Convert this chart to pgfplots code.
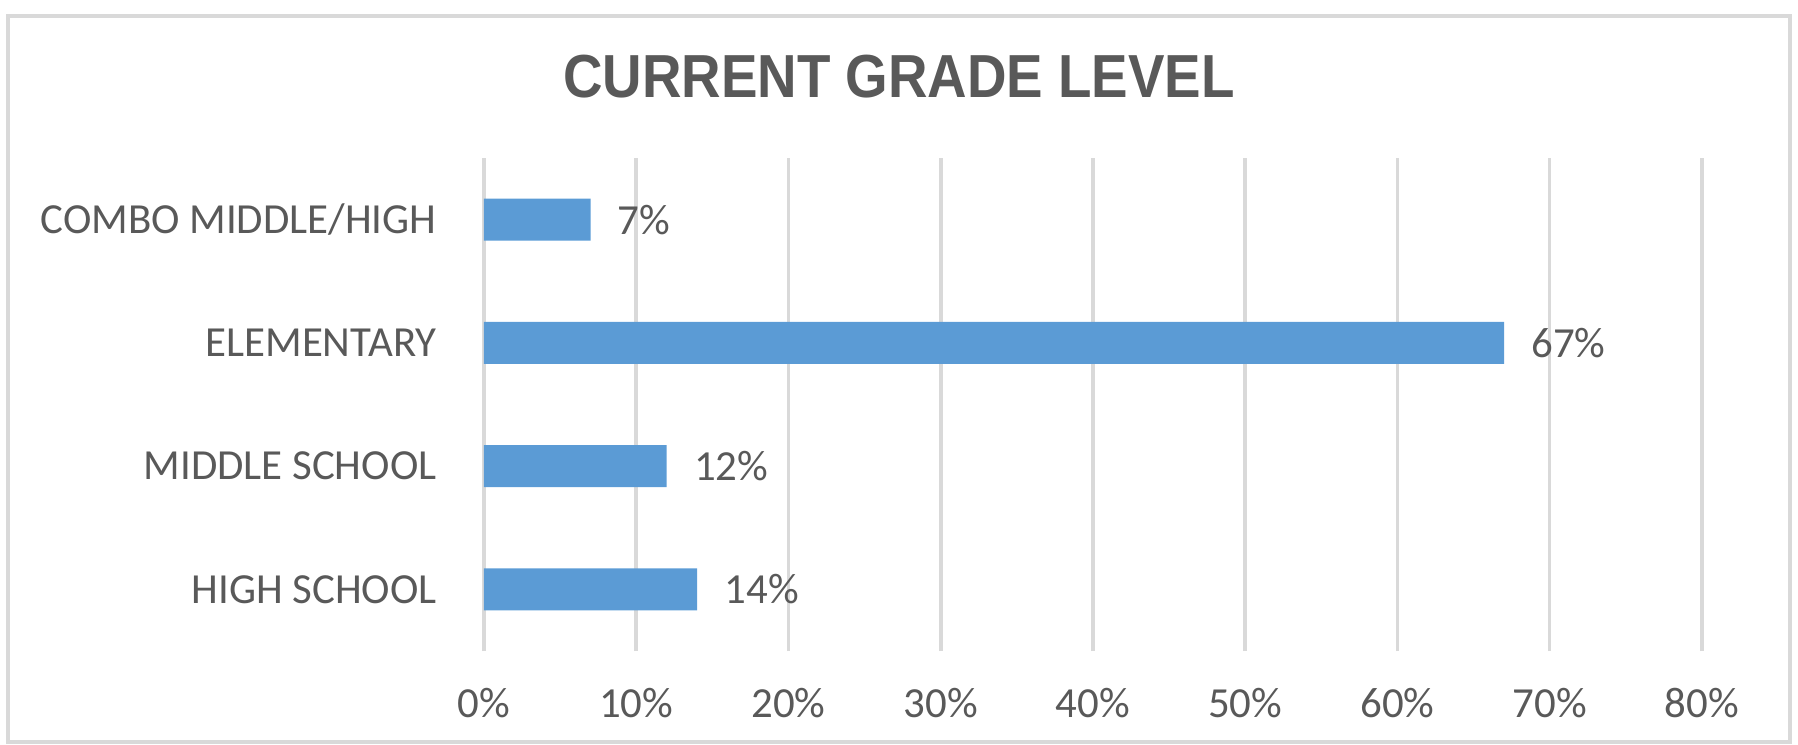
\documentclass[border=0pt]{standalone}
\usepackage{pgfplots}
\pgfplotsset{compat=1.18}
\usepackage{fontspec}
\setmainfont{Carlito}
\newfontfamily\titlefont[FakeStretch=0.9]{Liberation Sans}
\definecolor{barblue}{HTML}{5B9BD5}
\definecolor{txtgray}{HTML}{595959}
\definecolor{gridgray}{HTML}{D9D9D9}

\begin{document}
\begin{tikzpicture}[x=1cm,y=1cm]
\path[use as bounding box] (0,0) rectangle (17.98,7.44);
\draw[gridgray,line width=1pt] (0.08,0.02) rectangle (17.9,7.28);
\node[font=\titlefont\bfseries\fontsize{17.3}{20}\selectfont,text=txtgray] at (8.99,6.67) {CURRENT GRADE LEVEL};
\begin{axis}[
    at={(4.84cm,0.93cm)}, anchor=south west,
    scale only axis,
    width=12.18cm, height=4.93cm,
    xbar, bar width=0.42cm,
    xmin=0, xmax=80,
    ymin=-0.5, ymax=3.5,
    xtick={0,10,...,80},
    xticklabel={\pgfmathprintnumber{\tick}\%},
    ytick={0,1,2,3},
    yticklabels={HIGH SCHOOL,MIDDLE SCHOOL,ELEMENTARY,COMBO MIDDLE/HIGH},
    xmajorgrids, major grid style={gridgray,line width=1pt},
    axis line style={draw=none},
    tick style={draw=none},
    ticklabel style={font=\fontsize{12.2}{14}\selectfont,text=txtgray},
    xticklabel style={yshift=-0.25cm},
    yticklabel style={xshift=-0.2cm},
    /pgf/number format/assume math mode=true,
    nodes near coords={\pgfmathprintnumber{\pgfplotspointmeta}\%},
    every node near coord/.append style={font=\fontsize{12.2}{14}\selectfont,text=txtgray,anchor=west,xshift=0.15cm},
]
\addplot[fill=barblue,draw=none] coordinates {(14,0) (12,1) (67,2) (7,3)};
\end{axis}
\end{tikzpicture}
\end{document}
